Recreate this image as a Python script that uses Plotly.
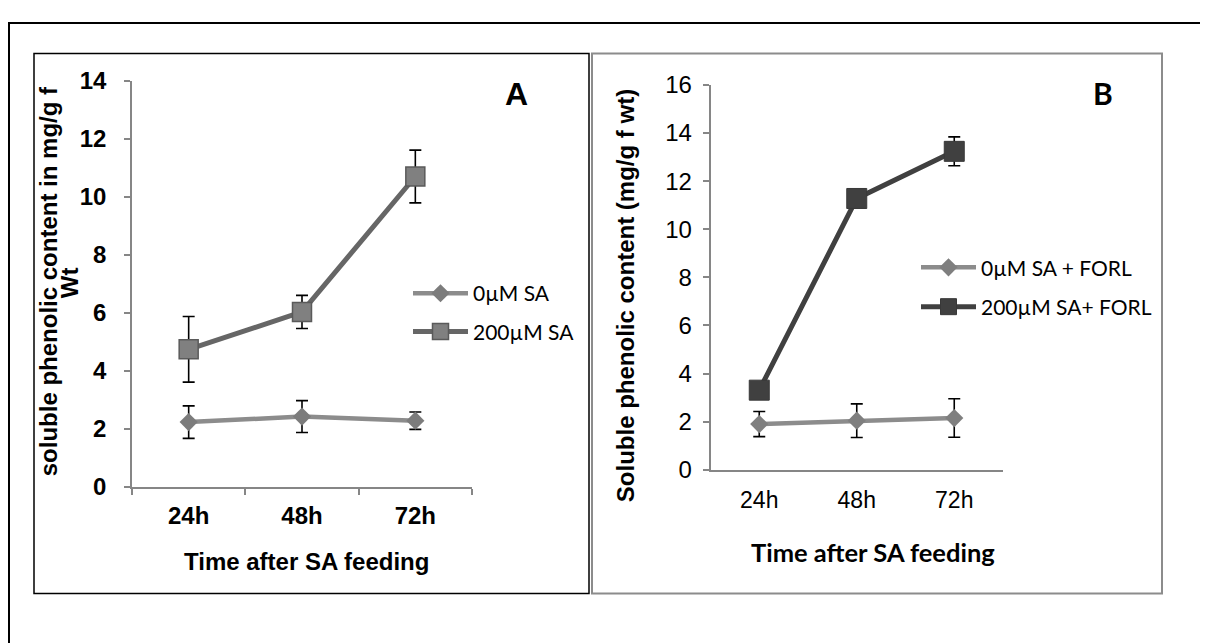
import plotly.graph_objects as go

W, H = 1208, 643

# ---------------- data ----------------
times = ["24h", "48h", "72h"]

a_names = ["0µM SA", "200µM SA"]
a_ctrl = [2.23, 2.42, 2.28]
a_ctrl_err = [0.56, 0.55, 0.30]
a_sa = [4.74, 6.03, 10.70]
a_sa_err = [1.13, 0.57, 0.91]

b_names = ["0µM SA + FORL", "200µM SA+ FORL"]
b_ctrl = [1.90, 2.04, 2.15]
b_ctrl_err = [0.52, 0.70, 0.80]
b_sa = [3.31, 11.28, 13.24]
b_sa_err = [0.25, 0.25, 0.60]

a_yticks = [0, 2, 4, 6, 8, 10, 12, 14]
b_yticks = [0, 2, 4, 6, 8, 10, 12, 14, 16]


# screen (reference) pixel -> paper fraction, compensating page offset
def px(x):
    return (x - 7) / W


def py(y):
    return 1 - ((y - 19.4) / 0.963) / H


fig = go.Figure()

ERR = dict(type="data", visible=True, color="black", thickness=1.6, width=6)

# Panel A
fig.add_trace(go.Scatter(
    x=times, y=a_ctrl, name=a_names[0], mode="lines+markers",
    line=dict(color="#8c8c8c", width=4.5),
    marker=dict(symbol="diamond", size=14, color="#7c7c7c"),
    error_y=dict(array=a_ctrl_err, **ERR),
    xaxis="x", yaxis="y", legend="legend", legendgroup="a0",
))
fig.add_trace(go.Scatter(
    x=times, y=a_sa, name=a_names[1], mode="lines+markers",
    line=dict(color="#666666", width=5),
    marker=dict(symbol="square", size=19, color="#808080",
                line=dict(color="#5a5a5a", width=1.5)),
    error_y=dict(array=a_sa_err, **ERR),
    xaxis="x", yaxis="y", legend="legend", legendgroup="a1",
))

# Panel B
fig.add_trace(go.Scatter(
    x=times, y=b_ctrl, name=b_names[0], mode="lines+markers",
    line=dict(color="#8c8c8c", width=4.5),
    marker=dict(symbol="diamond", size=14, color="#7f7f7f"),
    error_y=dict(array=b_ctrl_err, **ERR),
    xaxis="x2", yaxis="y2", legend="legend2", legendgroup="b0",
))
fig.add_trace(go.Scatter(
    x=times, y=b_sa, name=b_names[1], mode="lines+markers",
    line=dict(color="#404040", width=5),
    marker=dict(symbol="square", size=20, color="#404040",
                line=dict(color="#383838", width=1)),
    error_y=dict(array=b_sa_err, **ERR),
    xaxis="x2", yaxis="y2", legend="legend2", legendgroup="b1",
))

AXC = "#868686"
ARIAL = "Liberation Sans, Arial, sans-serif"
CAL = "Lato, Open Sans, sans-serif"

fig.update_layout(
    width=W, height=H, autosize=False,
    margin=dict(l=0, r=0, t=0, b=0),
    paper_bgcolor="white", plot_bgcolor="white",
    showlegend=True,
    xaxis=dict(
        domain=[px(131), px(471)], anchor="y", type="category",
        range=[-0.5, 2.5], showgrid=False, zeroline=False,
        showline=True, linecolor=AXC, linewidth=1.5,
        ticks="outside", tickson="boundaries", ticklen=6, tickcolor=AXC, tickwidth=1.5,
        tickfont=dict(family=ARIAL, size=24, color="black", weight="bold"),
        ticklabelstandoff=7,
    ),
    yaxis=dict(
        domain=[py(486.6), py(78.5)], anchor="x", range=[0, 14],
        tickvals=a_yticks, showgrid=False, zeroline=False,
        showline=True, linecolor=AXC, linewidth=1.5,
        ticks="outside", ticklen=6, tickcolor=AXC, tickwidth=1.5,
        tickfont=dict(family=ARIAL, size=24, color="black", weight="bold"),
        ticklabelstandoff=13,
    ),
    xaxis2=dict(
        domain=[px(709.5), px(1002)], anchor="y2", type="category",
        range=[-0.5, 2.5], showgrid=False, zeroline=False,
        showline=True, linecolor=AXC, linewidth=1.5,
        ticks="", tickfont=dict(family=ARIAL, size=23, color="black"),
        ticklabelstandoff=9,
    ),
    yaxis2=dict(
        domain=[py(469.5), py(82.7)], anchor="x2", range=[0, 16],
        tickvals=b_yticks, showgrid=False, zeroline=False,
        showline=True, linecolor=AXC, linewidth=1.5,
        ticks="outside", ticklen=6, tickcolor=AXC, tickwidth=1.5,
        tickfont=dict(family=ARIAL, size=24, color="black"),
        ticklabelstandoff=6,
    ),
    legend=dict(
        x=px(407), y=py(311.5), xanchor="left", yanchor="middle",
        font=dict(family=CAL, size=21, color="black"),
        bgcolor="rgba(0,0,0,0)", itemwidth=55, tracegroupgap=8,
    ),
    legend2=dict(
        x=px(915), y=py(286), xanchor="left", yanchor="middle",
        font=dict(family=CAL, size=21, color="black"),
        bgcolor="rgba(0,0,0,0)", itemwidth=55, tracegroupgap=9,
    ),
)

# frames
fig.add_shape(type="rect", xref="paper", yref="paper",
              x0=1 / W, x1=1.01, y0=1 - 1 / H, y1=-0.05,
              line=dict(color="black", width=2), layer="below")
fig.add_shape(type="rect", xref="paper", yref="paper",
              x0=px(33), x1=px(588), y0=py(51), y1=py(594),
              line=dict(color="black", width=1.5), layer="below")
fig.add_shape(type="rect", xref="paper", yref="paper",
              x0=px(591), x1=px(1161), y0=py(51), y1=py(594),
              line=dict(color="#8c8c8c", width=2), layer="below")

ANN = dict(xref="paper", yref="paper", showarrow=False, xanchor="center", yanchor="middle")

# titles and panel letters
fig.add_annotation(text="<b>soluble phenolic content in mg/g f</b>", textangle=-90,
                   x=px(47), y=py(280), font=dict(family=ARIAL, size=24, color="black"), **ANN)
fig.add_annotation(text="<b>Wt</b>", textangle=-90,
                   x=px(68), y=py(282), font=dict(family=ARIAL, size=24, color="black"), **ANN)
fig.add_annotation(text="<b>Time after SA feeding</b>",
                   x=px(305), y=py(561.7), font=dict(family=ARIAL, size=24, color="black"), **ANN)
fig.add_annotation(text="<b>A</b>",
                   x=px(515), y=py(91.7), font=dict(family=ARIAL, size=32, color="black"), **ANN)

fig.add_annotation(text="<b>Soluble phenolic content (mg/g f wt)</b>", textangle=-90,
                   x=px(624), y=py(295), font=dict(family=ARIAL, size=24, color="black"), **ANN)
fig.add_annotation(text="<b>Time after SA feeding</b>",
                   x=px(871.7), y=py(551.7), font=dict(family=CAL, size=25.5, color="black"), **ANN)
fig.add_annotation(text="<b>B</b>",
                   x=px(1101.7), y=py(91), font=dict(family=CAL, size=30, color="black"), **ANN)

fig.write_html("out.html")
